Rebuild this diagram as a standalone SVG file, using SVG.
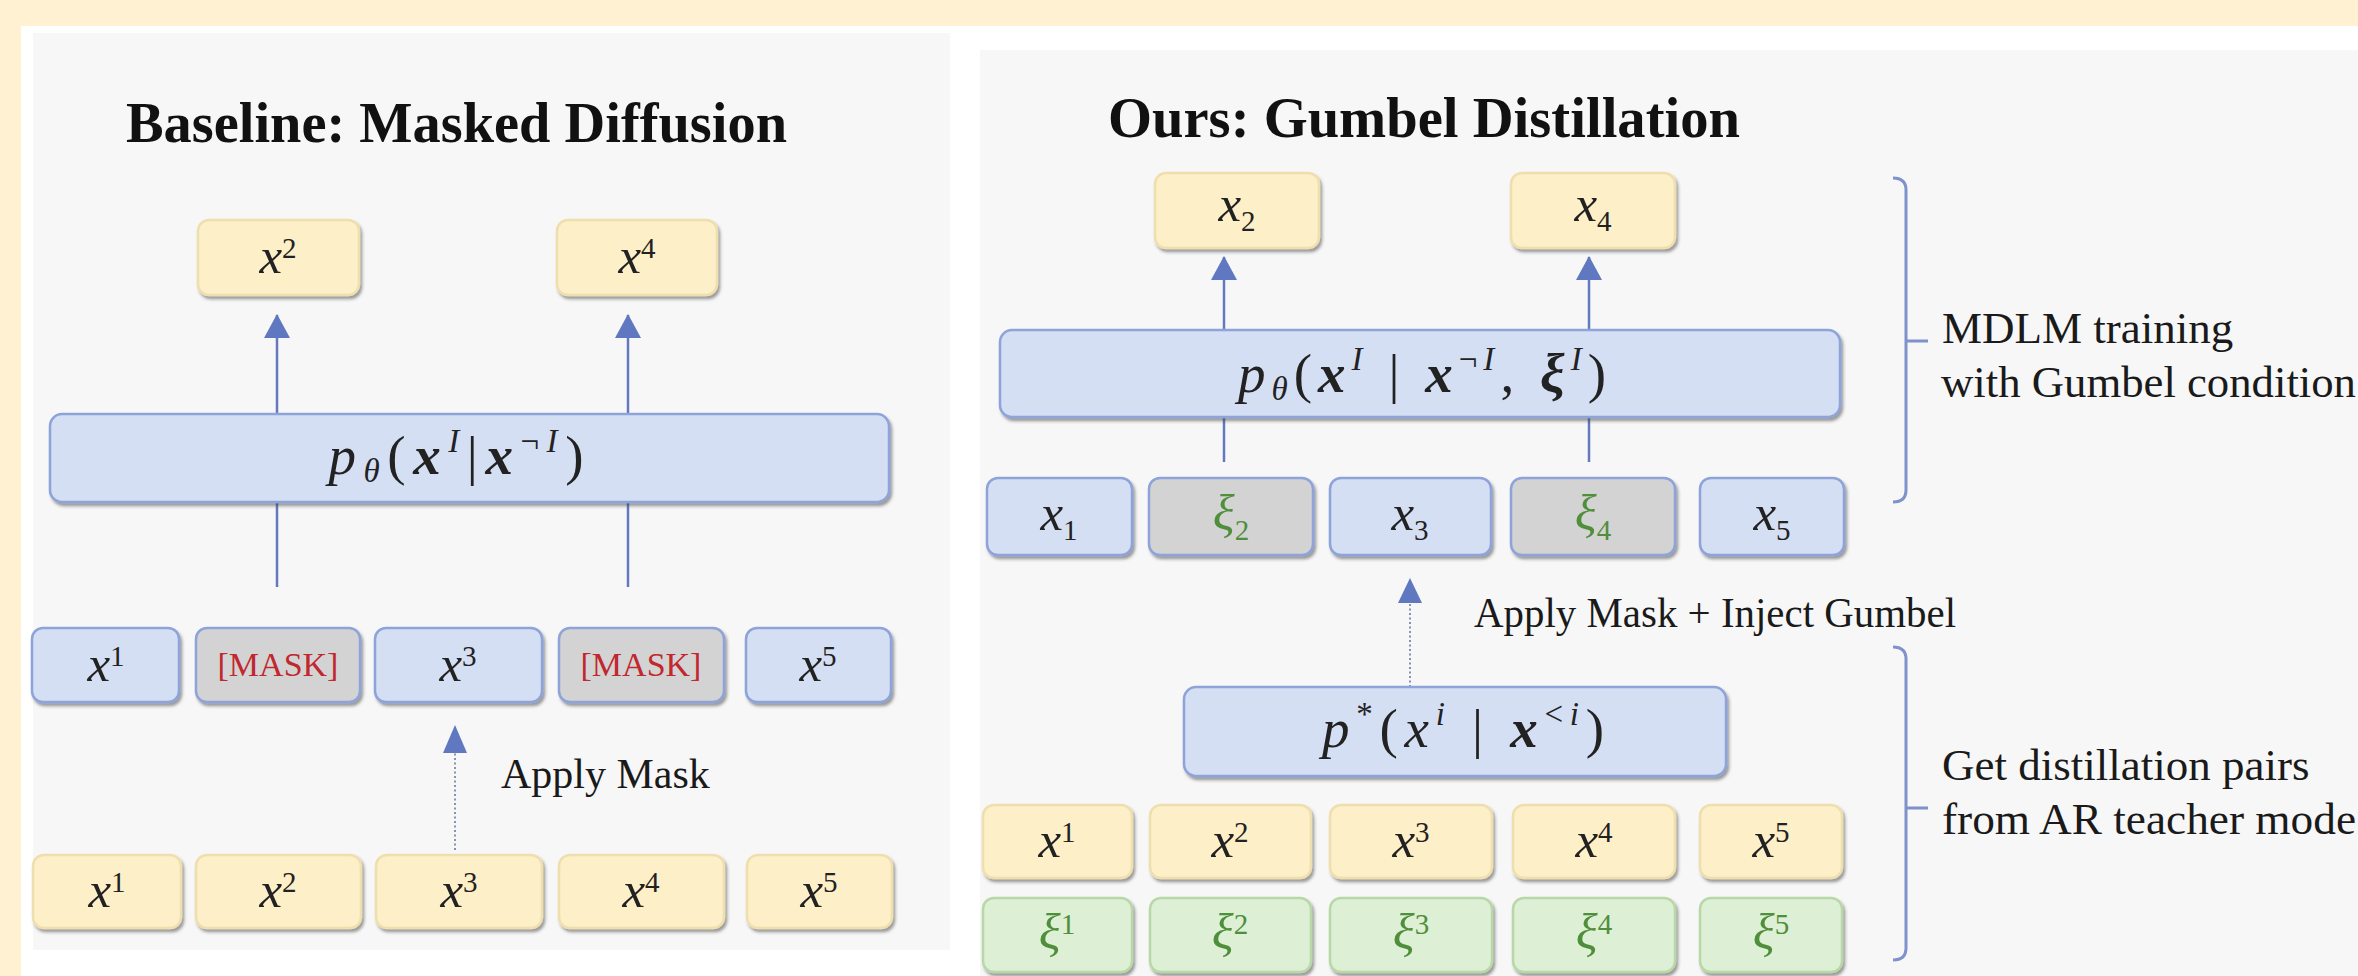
<svg xmlns="http://www.w3.org/2000/svg" width="2358" height="976" viewBox="0 0 2358 976">
<defs>
<filter id="sh" x="-10%" y="-20%" width="130%" height="150%">
<feDropShadow dx="2" dy="3" stdDeviation="1.6" flood-color="#3a3a3a" flood-opacity="0.5"/>
</filter>
<marker id="ah" viewBox="0 0 24 26" refX="23" refY="13" markerWidth="24" markerHeight="26" markerUnits="userSpaceOnUse" orient="auto">
<path d="M0,0 L24,13 L0,26 z" fill="#5F78BF"/>
</marker>
</defs>
<style>
.box{stroke-width:2.5;filter:url(#sh)}
.yel{fill:#FDEFC7;stroke:#EFDFAE}
.blu{fill:#D5DFF4;stroke:#8DA3D9}
.gry{fill:#D3D3D3;stroke:#8DA3D9}
.grn{fill:#DDEFD4;stroke:#B9D8A8}
.lbl{font-family:"Liberation Serif","Times New Roman",serif;font-size:51px;fill:#222;text-anchor:middle}
.math{font-size:55px}
.it{font-style:italic}
.bi{font-style:italic;font-weight:bold}
.sm{font-size:29px}
.ms{font-size:33px}
.g{fill:#4F8E3A}
.mask{font-size:34px;fill:#C1272D}
.title{font-family:"Liberation Serif","Times New Roman",serif;font-weight:bold;font-size:58px;fill:#111}
.note{font-family:"Liberation Serif","Times New Roman",serif;font-size:45px;fill:#1a1a1a}
.ap{font-family:"Liberation Serif","Times New Roman",serif;font-size:42px;fill:#1a1a1a}
.ln{stroke:#6279BE;stroke-width:2.5;fill:none}
.dot{stroke:#8790B5;stroke-width:2;stroke-dasharray:2 2.5;fill:none}
.br{stroke:#7F92CC;stroke-width:3;fill:none}
</style>
<rect x="0" y="0" width="2358" height="976" fill="#FFF1D2"/>
<rect x="21" y="26" width="2337" height="950" fill="#FFFFFF"/>
<rect x="33" y="33" width="917" height="917" fill="#F7F7F7"/>
<rect x="980" y="50" width="1378" height="926" fill="#F7F7F7"/>

<text class="title" x="126" y="142" textLength="661" lengthAdjust="spacingAndGlyphs">Baseline: Masked Diffusion</text>
<text class="title" x="1108" y="137" textLength="632" lengthAdjust="spacingAndGlyphs">Ours: Gumbel Distillation</text>

<g id="connectors">
<line class="ln" x1="277" y1="587" x2="277" y2="502"/>
<line class="ln" x1="628" y1="587" x2="628" y2="502"/>
<line class="ln" x1="277" y1="414" x2="277" y2="315" marker-end="url(#ah)"/>
<line class="ln" x1="628" y1="414" x2="628" y2="315" marker-end="url(#ah)"/>
<line class="dot" x1="455" y1="850" x2="455" y2="750"/>
<path d="M443,753 L455,725 L467,753 z" fill="#5F78BF"/>
<line class="ln" x1="1224" y1="462" x2="1224" y2="417"/>
<line class="ln" x1="1589" y1="462" x2="1589" y2="417"/>
<line class="ln" x1="1224" y1="330" x2="1224" y2="257" marker-end="url(#ah)"/>
<line class="ln" x1="1589" y1="330" x2="1589" y2="257" marker-end="url(#ah)"/>
<line class="dot" x1="1410" y1="687" x2="1410" y2="600"/>
<path d="M1398,603 L1410,578 L1422,603 z" fill="#5F78BF"/>
<path class="br" d="M1893,178 Q1906,178 1906,190 V490 Q1906,502 1893,502 M1906,341 H1928"/>
<path class="br" d="M1893,647 Q1906,647 1906,659 V948 Q1906,960 1893,960 M1906,808 H1928"/>
</g>

<text class="ap" x="501" y="788">Apply Mask</text>
<text class="ap" x="1474" y="627" textLength="482" lengthAdjust="spacingAndGlyphs">Apply Mask + Inject Gumbel</text>
<text class="note" x="1942" y="343">MDLM training</text>
<text class="note" x="1941" y="397" textLength="415" lengthAdjust="spacingAndGlyphs">with Gumbel condition</text>
<text class="note" x="1942" y="780">Get distillation pairs</text>
<text class="note" x="1942" y="834" textLength="414" lengthAdjust="spacingAndGlyphs">from AR teacher mode</text>

<!-- Left panel -->
<g id="L-out2"><rect class="box yel" x="198" y="220" width="161" height="75" rx="11"/><text class="lbl" x="278" y="273"><tspan class="it">x</tspan><tspan class="sm" dy="-15">2</tspan></text></g>
<g id="L-out4"><rect class="box yel" x="557" y="220" width="160" height="75" rx="11"/><text class="lbl" x="637" y="273"><tspan class="it">x</tspan><tspan class="sm" dy="-15">4</tspan></text></g>
<g id="L-model"><rect class="box blu" x="50" y="414" width="839" height="88" rx="12"/>
<text class="lbl math" x="456" y="474" textLength="255" lengthAdjust="spacing"><tspan class="it">p</tspan><tspan class="ms it" dy="8">θ</tspan><tspan dy="-8">(</tspan><tspan class="bi">x</tspan><tspan class="ms it" dy="-22">I</tspan><tspan dy="22">|</tspan><tspan class="bi">x</tspan><tspan class="ms" dy="-22">¬</tspan><tspan class="ms it">I</tspan><tspan dy="22">)</tspan></text></g>
<g id="L-m1"><rect class="box blu" x="32" y="628" width="147" height="74" rx="11"/><text class="lbl" x="106" y="681"><tspan class="it">x</tspan><tspan class="sm" dy="-15">1</tspan></text></g>
<g id="L-m2"><rect class="box gry" x="196" y="628" width="164" height="74" rx="11"/><text class="lbl mask" x="278" y="676">[MASK]</text></g>
<g id="L-m3"><rect class="box blu" x="375" y="628" width="167" height="74" rx="11"/><text class="lbl" x="458" y="681"><tspan class="it">x</tspan><tspan class="sm" dy="-15">3</tspan></text></g>
<g id="L-m4"><rect class="box gry" x="559" y="628" width="165" height="74" rx="11"/><text class="lbl mask" x="641" y="676">[MASK]</text></g>
<g id="L-m5"><rect class="box blu" x="746" y="628" width="145" height="74" rx="11"/><text class="lbl" x="818" y="681"><tspan class="it">x</tspan><tspan class="sm" dy="-15">5</tspan></text></g>
<g id="L-b1"><rect class="box yel" x="33" y="855" width="148" height="73" rx="11"/><text class="lbl" x="107" y="907"><tspan class="it">x</tspan><tspan class="sm" dy="-15">1</tspan></text></g>
<g id="L-b2"><rect class="box yel" x="196" y="855" width="165" height="73" rx="11"/><text class="lbl" x="278" y="907"><tspan class="it">x</tspan><tspan class="sm" dy="-15">2</tspan></text></g>
<g id="L-b3"><rect class="box yel" x="376" y="855" width="166" height="73" rx="11"/><text class="lbl" x="459" y="907"><tspan class="it">x</tspan><tspan class="sm" dy="-15">3</tspan></text></g>
<g id="L-b4"><rect class="box yel" x="559" y="855" width="165" height="73" rx="11"/><text class="lbl" x="641" y="907"><tspan class="it">x</tspan><tspan class="sm" dy="-15">4</tspan></text></g>
<g id="L-b5"><rect class="box yel" x="747" y="855" width="145" height="73" rx="11"/><text class="lbl" x="819" y="907"><tspan class="it">x</tspan><tspan class="sm" dy="-15">5</tspan></text></g>

<!-- Right panel -->
<g id="R-out2"><rect class="box yel" x="1155" y="173" width="164" height="75" rx="11"/><text class="lbl" x="1237" y="221"><tspan class="it">x</tspan><tspan class="sm" dy="10">2</tspan></text></g>
<g id="R-out4"><rect class="box yel" x="1511" y="173" width="164" height="75" rx="11"/><text class="lbl" x="1593" y="221"><tspan class="it">x</tspan><tspan class="sm" dy="10">4</tspan></text></g>
<g id="R-model"><rect class="box blu" x="1000" y="330" width="840" height="87" rx="12"/>
<text class="lbl math" x="1422" y="392" textLength="368" lengthAdjust="spacing"><tspan class="it">p</tspan><tspan class="ms it" dy="8">θ</tspan><tspan dy="-8">(</tspan><tspan class="bi">x</tspan><tspan class="ms it" dy="-22">I</tspan><tspan dy="22"> | </tspan><tspan class="bi">x</tspan><tspan class="ms" dy="-22">¬</tspan><tspan class="ms it">I</tspan><tspan dy="22">, </tspan><tspan class="bi">ξ</tspan><tspan class="ms it" dy="-22">I</tspan><tspan dy="22">)</tspan></text></g>
<g id="R-m1"><rect class="box blu" x="987" y="478" width="145" height="77" rx="11"/><text class="lbl" x="1059" y="530"><tspan class="it">x</tspan><tspan class="sm" dy="10">1</tspan></text></g>
<g id="R-m2"><rect class="box gry" x="1149" y="478" width="164" height="77" rx="11"/><text class="lbl g" x="1231" y="530"><tspan class="it">ξ</tspan><tspan class="sm" dy="10">2</tspan></text></g>
<g id="R-m3"><rect class="box blu" x="1330" y="478" width="161" height="77" rx="11"/><text class="lbl" x="1410" y="530"><tspan class="it">x</tspan><tspan class="sm" dy="10">3</tspan></text></g>
<g id="R-m4"><rect class="box gry" x="1511" y="478" width="164" height="77" rx="11"/><text class="lbl g" x="1593" y="530"><tspan class="it">ξ</tspan><tspan class="sm" dy="10">4</tspan></text></g>
<g id="R-m5"><rect class="box blu" x="1700" y="478" width="144" height="77" rx="11"/><text class="lbl" x="1772" y="530"><tspan class="it">x</tspan><tspan class="sm" dy="10">5</tspan></text></g>
<g id="R-teacher"><rect class="box blu" x="1184" y="687" width="542" height="89" rx="12"/>
<text class="lbl math" x="1463" y="747" textLength="282" lengthAdjust="spacing"><tspan class="it">p</tspan><tspan class="ms" dy="-22">*</tspan><tspan dy="22">(</tspan><tspan class="it">x</tspan><tspan class="ms it" dy="-22">i</tspan><tspan dy="22"> | </tspan><tspan class="bi">x</tspan><tspan class="ms" dy="-22">&lt;</tspan><tspan class="ms it">i</tspan><tspan dy="22">)</tspan></text></g>
<g id="R-y1"><rect class="box yel" x="983" y="805" width="149" height="73" rx="11"/><text class="lbl" x="1057" y="857"><tspan class="it">x</tspan><tspan class="sm" dy="-15">1</tspan></text></g>
<g id="R-y2"><rect class="box yel" x="1150" y="805" width="161" height="73" rx="11"/><text class="lbl" x="1230" y="857"><tspan class="it">x</tspan><tspan class="sm" dy="-15">2</tspan></text></g>
<g id="R-y3"><rect class="box yel" x="1330" y="805" width="162" height="73" rx="11"/><text class="lbl" x="1411" y="857"><tspan class="it">x</tspan><tspan class="sm" dy="-15">3</tspan></text></g>
<g id="R-y4"><rect class="box yel" x="1513" y="805" width="162" height="73" rx="11"/><text class="lbl" x="1594" y="857"><tspan class="it">x</tspan><tspan class="sm" dy="-15">4</tspan></text></g>
<g id="R-y5"><rect class="box yel" x="1700" y="805" width="142" height="73" rx="11"/><text class="lbl" x="1771" y="857"><tspan class="it">x</tspan><tspan class="sm" dy="-15">5</tspan></text></g>
<g id="R-g1"><rect class="box grn" x="983" y="898" width="149" height="74" rx="11"/><text class="lbl g" x="1057" y="949"><tspan class="it">ξ</tspan><tspan class="sm" dy="-15">1</tspan></text></g>
<g id="R-g2"><rect class="box grn" x="1150" y="898" width="161" height="74" rx="11"/><text class="lbl g" x="1230" y="949"><tspan class="it">ξ</tspan><tspan class="sm" dy="-15">2</tspan></text></g>
<g id="R-g3"><rect class="box grn" x="1330" y="898" width="162" height="74" rx="11"/><text class="lbl g" x="1411" y="949"><tspan class="it">ξ</tspan><tspan class="sm" dy="-15">3</tspan></text></g>
<g id="R-g4"><rect class="box grn" x="1513" y="898" width="162" height="74" rx="11"/><text class="lbl g" x="1594" y="949"><tspan class="it">ξ</tspan><tspan class="sm" dy="-15">4</tspan></text></g>
<g id="R-g5"><rect class="box grn" x="1700" y="898" width="142" height="74" rx="11"/><text class="lbl g" x="1771" y="949"><tspan class="it">ξ</tspan><tspan class="sm" dy="-15">5</tspan></text></g>
</svg>
